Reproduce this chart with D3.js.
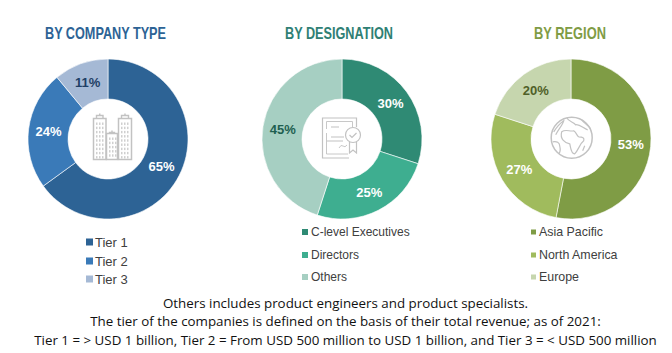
<!DOCTYPE html>
<html>
<head>
<meta charset="utf-8">
<script src="https://cdn.jsdelivr.net/npm/d3@7"></script>
<style>
  html, body { margin: 0; padding: 0; background: #fff; }
  svg { display: block; }
</style>
</head>
<body>
<svg id="chart" width="672" height="353"></svg>
<script>
// Three donuts + legends + footnote

const companyLabels = ["Tier 1", "Tier 2", "Tier 3"];
const companyValues = [65, 24, 11];
const companyColors = ["#2d6395", "#3a7ab8", "#a5b9d5"];

const designationLabels = ["C-level Executives", "Directors", "Others"];
const designationValues = [30, 25, 45];
const designationColors = ["#2f8a74", "#3eae90", "#a6cfc2"];

const regionLabels = ["Asia Pacific", "North America", "Europe"];
const regionValues = [53, 27, 20];
const regionColors = ["#7f9c45", "#a0bb5d", "#c6d6ae"];

const footnotes = [
  "Others includes product engineers and product specialists.",
  "The tier of the companies is defined on the basis of their total revenue; as of 2021:",
  "Tier 1 = > USD 1 billion, Tier 2 = From USD 500 million to USD 1 billion, and Tier 3 = < USD 500 million",
];

const svg = d3.select("#chart");
const outerR = 80;
const innerR = 40;
const labelR = 60;

const pie = d3.pie().sort(null).value((d) => d.value);
const arc = d3.arc().innerRadius(innerR).outerRadius(outerR);
const labelArc = d3.arc().innerRadius(labelR).outerRadius(labelR);

function drawDonut(cfg) {
  const rows = cfg.labels.map((label, i) => ({
    label,
    value: cfg.values[i],
    color: cfg.colors[i],
  }));

  // no narrow font here, so squeeze the title to the reference width
  svg
    .append("text")
    .attr("x", cfg.titleX)
    .attr("y", 39)
    .attr("text-anchor", "middle")
    .attr("font-family", "'Liberation Sans', sans-serif")
    .attr("font-weight", 700)
    .attr("font-size", 17)
    .attr("textLength", cfg.titleW)
    .attr("lengthAdjust", "spacingAndGlyphs")
    .attr("fill", cfg.titleColor)
    .text(cfg.title);

  const g = svg.append("g").attr("transform", `translate(${cfg.cx},${cfg.cy})`);

  g.selectAll("path")
    .data(pie(rows))
    .join("path")
    .attr("d", arc)
    .attr("fill", (d) => d.data.color)
    .attr("stroke", "#fff")
    .attr("stroke-width", 0.6);

  g.selectAll("text")
    .data(pie(rows))
    .join("text")
    .attr("transform", (d) => `translate(${labelArc.centroid(d)})`)
    .attr("text-anchor", "middle")
    .attr("dy", "0.36em")
    .attr("font-family", "'Liberation Sans', sans-serif")
    .attr("font-weight", 700)
    .attr("font-size", 13)
    .attr("fill", (d, i) => cfg.labelColors[i])
    .text((d) => d.data.value + "%");

  // legend
  const lg = svg.append("g");
  rows.forEach((d, i) => {
    const y = cfg.legendY[i];
    lg.append("rect")
      .attr("x", cfg.swatchX)
      .attr("y", y - cfg.swatch / 2)
      .attr("width", cfg.swatch)
      .attr("height", cfg.swatch)
      .attr("fill", d.color);
    lg.append("text")
      .attr("x", cfg.textX)
      .attr("y", y)
      .attr("dy", "0.36em")
      .attr("font-family", "'Liberation Sans', sans-serif")
      .attr("font-size", cfg.legendSize)
      .attr("fill", "#404040")
      .text(d.label);
  });

  return g;
}

const iconStroke = "#c2c2c2";

function iconGroup(g) {
  return g
    .append("g")
    .attr("fill", "none")
    .attr("stroke", iconStroke)
    .attr("stroke-width", 1.2);
}

// buildings icon
function drawBuildings(g) {
  const ic = iconGroup(g);
  const towers = [
    { x: -14.5, y: -20.5, w: 12.5, h: 41, cap: 5 },
    { x: -1.5, y: -5.5, w: 11, h: 26, cap: 3 },
    { x: 10.5, y: -20.5, w: 13, h: 41, cap: 5 },
  ];
  towers.forEach((t) => {
    ic.append("rect").attr("x", t.x).attr("y", t.y).attr("width", t.w).attr("height", t.h).attr("stroke-width", 1.5);
    ic.append("path")
      .attr("d", `M${t.x + 3},${t.y} v-${t.cap - 2} h${t.w - 6} v${t.cap - 2} M${t.x + t.w / 2},${t.y - t.cap + 2} v-2`)
      .attr("stroke-width", 1.4);
    for (let r = t.y + 4; r < t.y + t.h - 3; r += 4.2) {
      for (let c = t.x + 2.5; c < t.x + t.w - 2; c += 3) {
        ic.append("rect").attr("x", c).attr("y", r).attr("width", 1.5).attr("height", 2.4)
          .attr("fill", "#cfcfcf").attr("stroke", "none");
      }
    }
  });
}

// certificate icon
function drawCertificate(g) {
  const ic = iconGroup(g);
  ic.append("path").attr("d", "M7,19 H-19.5 V-21 H14.5 V-12");
  ic.append("path").attr("d", "M-15.5,-6 V15 H6 M-15.5,-10 V-17.5 H10.5 V-12").attr("stroke-width", 0.9);
  ic.append("path").attr("d", "M-11,-12 h8 M-11,-2 h13 M-15,2 h16").attr("stroke-width", 1.1);
  ic.append("path").attr("d", "M-3,9 q2,-4 4,-2 t4,-1").attr("stroke-width", 0.9);
  ic.append("circle").attr("cx", 11).attr("cy", -4).attr("r", 7.5);
  ic.append("path").attr("d", "M7.5,-4 l2.5,2.5 l4.5,-4.5");
  ic.append("path").attr("d", "M7.5,3 V14 L11,11 L14.5,14 V3");
}

// globe icon
function drawGlobe(g) {
  const ic = iconGroup(g);
  ic.attr("transform", "translate(0.7,-1.2)");
  ic.append("circle").attr("r", 20.5).attr("stroke-width", 1.5);
  ic.append("path").attr("d",
    "M-10,-6 C-6,-9 -2,-6 2,-7 C5,-5 5,-2 7,-1 C11,-1 13,0 12,3 C8,6 7,12 3,16 C-1,16 -1,9 -2,6 C-7,5 -12,1 -10,-6 Z");
  ic.append("path").attr("d", "M-18,-6 C-14,-12 -11,-15 -8,-17 C-9,-13 -13,-9 -16,-3");
  ic.append("path").attr("d", "M-19,4 C-15,3 -12,5 -12,8 C-11,12 -12,15 -13,16");
  ic.append("path").attr("d", "M-5,-20 C-3,-16 2,-16 4,-13 C8,-14 12,-9 16,-8 M10,-18 C12,-15 16,-13 19,-9");
  ic.append("path").attr("d", "M13,8 L11,13");
}

const donut1 = drawDonut({
  title: "BY COMPANY TYPE", titleX: 105.5, titleW: 121, titleColor: "#2d6395",
  labels: companyLabels, values: companyValues, colors: companyColors,
  labelColors: ["#fff", "#fff", "#1f3f66"],
  cx: 108, cy: 139,
  swatchX: 86, swatch: 7, textX: 95, legendY: [242, 261, 279], legendSize: 13,
});
drawBuildings(donut1);

const donut2 = drawDonut({
  title: "BY DESIGNATION", titleX: 339, titleW: 108, titleColor: "#2f8074",
  labels: designationLabels, values: designationValues, colors: designationColors,
  labelColors: ["#fff", "#fff", "#1f5f50"],
  cx: 342, cy: 139,
  swatchX: 302, swatch: 6, textX: 311, legendY: [232, 255, 277], legendSize: 12,
});
drawCertificate(donut2);

const donut3 = drawDonut({
  title: "BY REGION", titleX: 570, titleW: 72, titleColor: "#7f9c45",
  labels: regionLabels, values: regionValues, colors: regionColors,
  labelColors: ["#fff", "#fff", "#4f6028"],
  cx: 571, cy: 139,
  swatchX: 531, swatch: 5, textX: 539, legendY: [232, 255, 277], legendSize: 12.4,
});
drawGlobe(donut3);

// footnote
svg
  .append("g")
  .selectAll("text")
  .data(footnotes)
  .join("text")
  .attr("x", 345.5)
  .attr("y", (d, i) => 307.5 + i * 18.5)
  .attr("text-anchor", "middle")
  .attr("font-family", "'Open Sans', sans-serif")
  .attr("font-size", 13.35)
  .attr("fill", "#111")
  .text((d) => d);
</script>
</body>
</html>
